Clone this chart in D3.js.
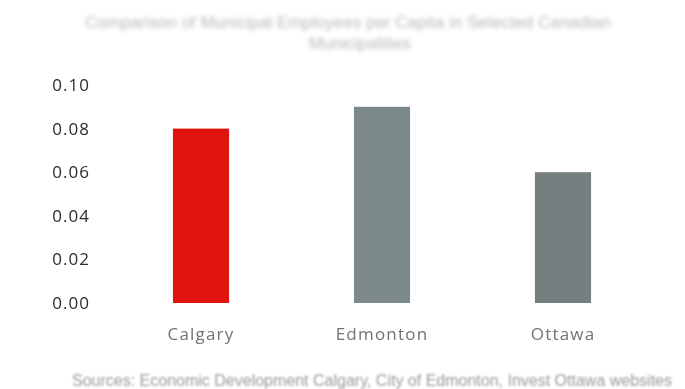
<!DOCTYPE html>
<html><head><meta charset="utf-8">
<script src="https://cdn.jsdelivr.net/npm/d3@7"></script>
<style>html,body{margin:0;padding:0;background:#fff;}svg{display:block;}</style>
</head><body>
<div id="chart"></div>
<script>
const categories = ["Calgary", "Edmonton", "Ottawa"];
const values = [0.08, 0.09, 0.06];
const barColors = ["#e0130f", "#7c898b", "#767f80"];
const yTicks = [0, 0.02, 0.04, 0.06, 0.08, 0.10];
const titleLines = ["Comparison of Municipal Employees per Capita in Selected Canadian", "Municipalities"];
const footnote = "Sources: Economic Development Calgary, City of Edmonton, Invest Ottawa websites";

const W = 685, H = 389;
const svg = d3.select("#chart").append("svg").attr("width", W).attr("height", H);
const defs = svg.append("defs");
defs.append("filter").attr("id", "blurT").append("feGaussianBlur").attr("stdDeviation", 2.2);
defs.append("filter").attr("id", "blurF").append("feGaussianBlur").attr("stdDeviation", 1.3);
defs.append("filter").attr("id", "blurS").append("feGaussianBlur").attr("stdDeviation", 0.35);

const x = d3.scaleBand().domain(categories).range([110.5, 653.5]).paddingInner(0.69).paddingOuter(0.345);
const y = d3.scaleLinear().domain([0, 0.10]).range([303, 85]);

// title
svg.append("g").attr("filter", "url(#blurT)")
  .selectAll("text").data(titleLines).join("text")
  .attr("x", (d, i) => i === 0 ? 348 : 360)
  .attr("y", (d, i) => 28 + i * 21)
  .attr("text-anchor", "middle")
  .attr("font-family", "Liberation Sans, Arial, sans-serif")
  .attr("font-size", 17)
  .attr("fill", "#b8b8b8")
  .text(d => d);

// bars
svg.append("g").selectAll("rect").data(values).join("rect")
  .attr("x", (d, i) => x(categories[i]))
  .attr("width", x.bandwidth())
  .attr("y", d => y(d))
  .attr("height", d => y(0) - y(d))
  .attr("fill", (d, i) => barColors[i]);

// y axis
const yAxis = d3.axisLeft(y).tickValues(yTicks).tickFormat(d3.format(".2f")).tickSize(0).tickPadding(0);
const ya = svg.append("g").attr("transform", "translate(90,0)").attr("filter", "url(#blurS)").call(yAxis);
ya.select(".domain").remove();
ya.selectAll("text").attr("font-family", "Open Sans, Liberation Sans, sans-serif")
  .attr("font-size", 17).attr("letter-spacing", 1).attr("fill", "#2b2b2b");

// x axis
const xAxis = d3.axisBottom(x).tickSize(0).tickPadding(0);
const xa = svg.append("g").attr("transform", "translate(0,328)").attr("filter", "url(#blurS)").call(xAxis);
xa.select(".domain").remove();
xa.selectAll("text").attr("font-family", "Open Sans, Liberation Sans, sans-serif")
  .attr("font-size", 17).attr("letter-spacing", 1.2).attr("fill", "#727272");

// footnote
svg.append("text").attr("filter", "url(#blurF)")
  .attr("x", 72).attr("y", 386)
  .attr("font-family", "Liberation Sans, Arial, sans-serif")
  .attr("font-size", 16)
  .attr("fill", "#9a9a9a")
  .text(footnote);
</script>
</body></html>
